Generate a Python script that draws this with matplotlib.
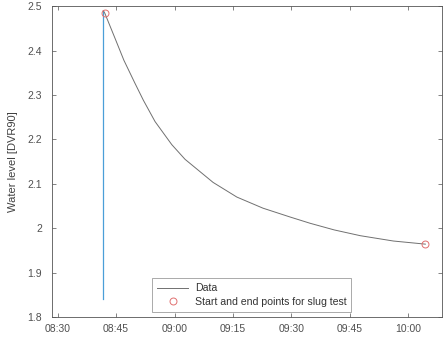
import matplotlib
matplotlib.use("Agg")
import matplotlib.pyplot as plt
from datetime import datetime, timedelta
from matplotlib.ticker import FuncFormatter

# minutes after 08:30
jump_minutes = [11.7, 11.7]
jump_values = [1.84, 2.49]

curve_minutes = [11.7, 12.1, 14.7, 17.0, 19.8, 22.0, 25.0, 29.3, 32.7, 39.9, 46.0, 52.7,
                 59.7, 64.8, 71.0, 77.7, 86.2, 94.4]
curve_values = [2.49, 2.484, 2.428, 2.378, 2.327, 2.288, 2.240, 2.188, 2.155, 2.103, 2.070,
                2.045, 2.025, 2.011, 1.996, 1.983, 1.971, 1.964]

marker_minutes = [12.1, 94.4]
marker_values = [2.484, 1.964]

tick_labels = ["08:30", "08:45", "09:00", "09:15", "09:30", "09:45", "10:00"]
y_ticks = [1.8, 1.9, 2.0, 2.1, 2.2, 2.3, 2.4, 2.5]

base = datetime(2020, 1, 1, 8, 30)
to_t = lambda mins: [base + timedelta(minutes=m) for m in mins]

plt.rcParams['font.family'] = ['Liberation Sans', 'DejaVu Sans']
fig = plt.figure(figsize=(4.43, 3.39), dpi=100)
ax = fig.add_axes([0.117, 0.065, 0.881, 0.917])

ax.plot(to_t(jump_minutes), jump_values, color='#4a9fd8', lw=0.9)
ax.plot(to_t(curve_minutes), curve_values, color='#707070', lw=0.7, label='Data')
ax.plot(to_t(marker_minutes), marker_values, 'o', mfc='none', mec='#e07070', mew=0.7,
        ms=5, label='Start and end points for slug test')

ax.set_xlim(base + timedelta(minutes=-1.5), base + timedelta(minutes=98.7))
ax.set_ylim(1.8, 2.5)
xt = [base + timedelta(minutes=15 * i) for i in range(len(tick_labels))]
ax.set_xticks(xt)
ax.set_xticklabels(tick_labels)
ax.set_yticks(y_ticks)
ax.yaxis.set_major_formatter(FuncFormatter(lambda v, p: f"{v:g}"))

ax.tick_params(direction='in', length=3, width=0.5, labelsize=7.5, colors='#505050',
               top=True, right=True)
ax.tick_params(axis='y', pad=7)
ax.tick_params(axis='x', pad=5)
for s in ax.spines.values():
    s.set_linewidth(0.6)
    s.set_color('#555555')
ax.set_ylabel('Water level [DVR90]', fontsize=8, color='#404040', labelpad=7)

leg = ax.legend(loc='lower left', bbox_to_anchor=(0.243, 0.0), fontsize=7.6,
                frameon=True, fancybox=False, edgecolor='#888888', framealpha=1,
                handlelength=3.0, borderpad=0.45, labelspacing=0.35, handletextpad=0.6)
leg.get_frame().set_linewidth(0.5)
for t in leg.get_texts():
    t.set_color('#333333')

fig.savefig('out.png', dpi=100)
